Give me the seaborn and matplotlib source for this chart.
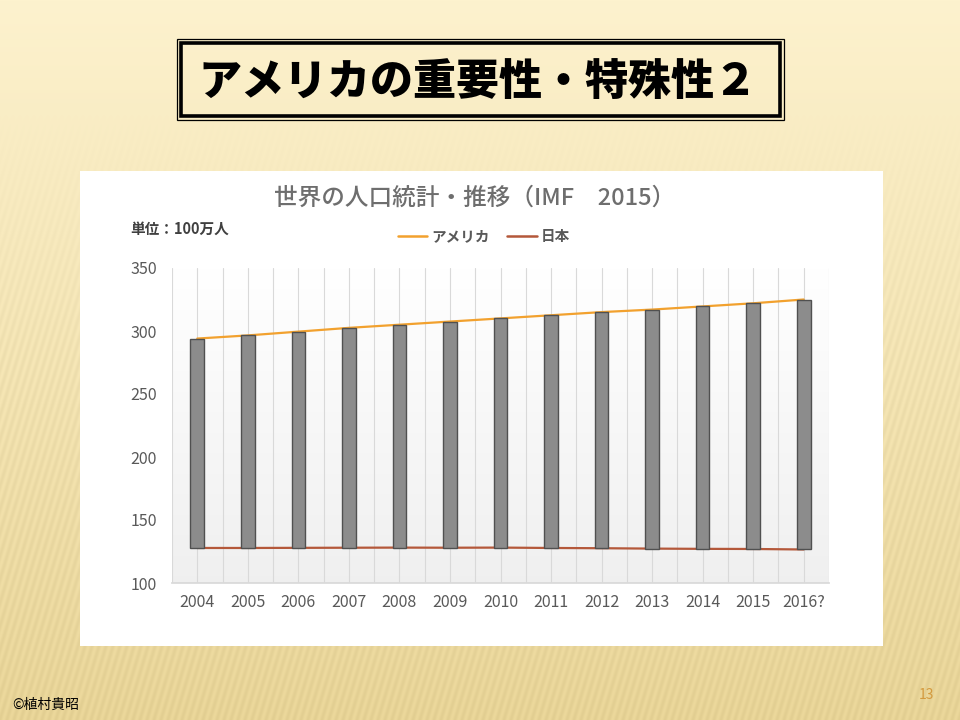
import numpy as np
import matplotlib.pyplot as plt
import matplotlib.patches as mpatches
from matplotlib.lines import Line2D
import seaborn as sns

# ── data (millions of people) ──
years = ['2004', '2005', '2006', '2007', '2008', '2009', '2010',
         '2011', '2012', '2013', '2014', '2015', '2016?']
usa = [294.0, 296.5, 299.5, 302.5, 305.0, 307.5, 310.0,
       312.5, 315.0, 317.0, 319.5, 322.0, 325.0]
japan = [127.8, 127.8, 127.9, 128.0, 128.1, 128.0, 128.1,
         127.8, 127.6, 127.3, 127.1, 127.0, 126.6]

slide_title = 'アメリカの重要性・特殊性２'
chart_title = '世界の人口統計・推移（IMF　2015）'
unit_label = '単位：100万人'
series_names = ['アメリカ', '日本']
us_color = '#f2a12e'
jp_color = '#b4583a'

sns.set_theme(style='white')
plt.rcParams['font.family'] = ['Noto Sans CJK JP', 'DejaVu Sans']

fig = plt.figure(figsize=(9.6, 7.2), dpi=100)

# ── slide background (pixel coordinates) ──
bg = fig.add_axes([0, 0, 1, 1])
bg.set_xlim(0, 960)
bg.set_ylim(720, 0)
bg.axis('off')
yy, xx = np.mgrid[0:720, 0:960]
t = yy / 719
top = np.array([253, 242, 206]) / 255
bot = np.array([231, 211, 150]) / 255
img = top + (bot - top) * t[..., None]
stripes = 0.018 * np.sin((xx + 0.3 * yy) * 2 * np.pi / 7)
mask = np.clip((yy - 110) / 250, 0, 1)
img = np.clip(img + (stripes * mask)[..., None], 0, 1)
bg.imshow(img, extent=(0, 960, 720, 0), aspect='auto', zorder=0)

# title box with double border
bg.add_patch(mpatches.Rectangle((177, 39), 607, 81, fill=False,
                                edgecolor='black', lw=0.9, zorder=2))
bg.add_patch(mpatches.Rectangle((181, 43), 599, 73, fill=False,
                                edgecolor='black', lw=2.6, zorder=2))
bg.text(478, 82, slide_title, ha='center', va='center', fontsize=31,
        fontweight='black', color='black', zorder=3)

# white chart panel
bg.add_patch(mpatches.Rectangle((80, 171), 803, 475, facecolor='white',
                                edgecolor='none', zorder=1))

# footer
bg.text(12, 705, '©植村貴昭', ha='left', va='center', fontsize=10,
        color='black', zorder=3)
bg.text(926, 695, '13', ha='center', va='center', fontsize=10,
        color='#d49a3e', zorder=3)

# ── main chart ──
ax = fig.add_axes([172 / 960, 1 - 583 / 720, 657 / 960, 315 / 720])
x = np.arange(len(years))
ax.set_xlim(-0.5, len(years) - 0.5)
ax.set_ylim(100, 350)

# plot-area gradient: white at top, light gray at bottom
grad = np.linspace(1.0, 0.94, 256)[:, None, None] * np.ones((1, 1, 3))
ax.imshow(grad, extent=(-0.5, len(years) - 0.5, 100, 350),
          aspect='auto', origin='upper', zorder=0)

# floating bars between the two series
ax.bar(x, np.array(usa) - np.array(japan), bottom=japan, width=0.27,
       color='#8c8c8c', edgecolor='#505050', linewidth=1.0, zorder=3)

sns.lineplot(x=x, y=usa, ax=ax, color=us_color, linewidth=1.6, zorder=2)
sns.lineplot(x=x, y=japan, ax=ax, color=jp_color, linewidth=1.6, zorder=2)

ax.set_xticks(x)
ax.set_xticklabels(years)
ax.set_xticks(np.arange(-0.5, len(years), 1), minor=True)
ax.set_yticks(np.arange(100, 351, 50))
ax.grid(which='both', axis='x', color='#d9d9d9', linewidth=0.8, zorder=1)
ax.grid(axis='y', visible=False)
for side in ['top', 'left', 'right']:
    ax.spines[side].set_visible(False)
ax.spines['bottom'].set_color('#d9d9d9')
ax.tick_params(axis='both', which='both', length=0, labelsize=11.5,
               labelcolor='#595959')
ax.tick_params(axis='y', pad=11)
ax.tick_params(axis='x', pad=8)
ax.set_xlabel('')
ax.set_ylabel('')

fig.text(475 / 960, 1 - 198 / 720, chart_title, ha='center', va='center',
         fontsize=17, fontweight='medium', color='#6e6e6e')
fig.text(130 / 960, 1 - 229 / 720, unit_label, ha='left', va='center',
         fontsize=10.5, fontweight='bold', color='#404040')

handles = [Line2D([0], [0], color=us_color, lw=1.8),
           Line2D([0], [0], color=jp_color, lw=1.8)]
leg = fig.legend(handles, series_names, loc='center',
                 bbox_to_anchor=(484 / 960, 1 - 236 / 720), ncol=2,
                 frameon=False, fontsize=10.5, handlelength=2.0,
                 handletextpad=0.3, columnspacing=1.2)
for txt in leg.get_texts():
    txt.set_color('#595959')
    txt.set_fontweight('bold')

fig.savefig('out.png', dpi=100)
